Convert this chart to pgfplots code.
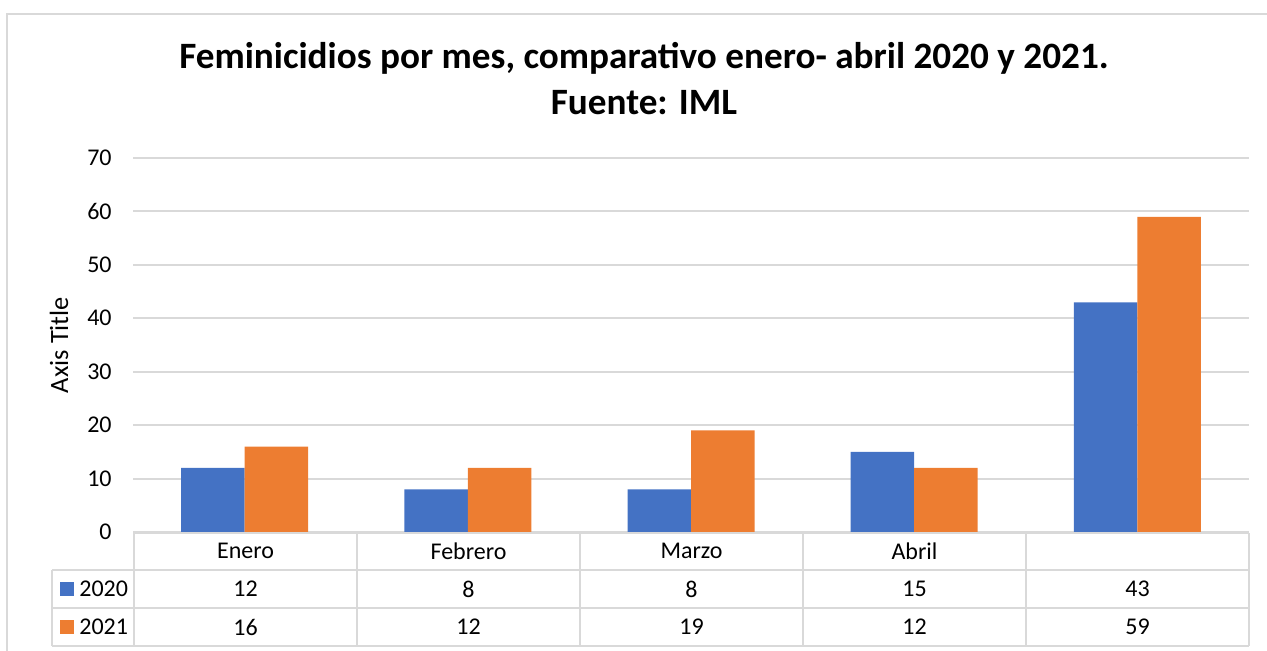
\documentclass[border=0pt]{standalone}
\usepackage{fontspec}
\setmainfont{Carlito}
\usepackage{pgfplots}
\pgfplotsset{compat=1.18}
\definecolor{c2020}{HTML}{4472C4}
\definecolor{c2021}{HTML}{ED7D31}
\definecolor{gridc}{HTML}{D9D9D9}
\newcommand{\tfont}{\fontsize{12pt}{14pt}\selectfont}
\begin{document}
\begin{tikzpicture}
% pixel-like frame: 1px = 0.5pt, y grows downward
\begin{scope}[x=0.5pt,y=-0.5pt]
\useasboundingbox (0,0) rectangle (1267,651);
\draw[gridc, line width=1pt] (7,651) -- (7,14) -- (1267,14);
\node[font=\fontsize{18.6pt}{22pt}\selectfont\bfseries] at (644,58) {Feminicidios por mes, comparativo enero- abril 2020 y 2021.};
\node[font=\fontsize{18.6pt}{22pt}\selectfont\bfseries] at (644,103) {Fuente: IML};
\node[font=\fontsize{13.2pt}{16pt}\selectfont, rotate=90] at (59,345) {Axis Title};
\end{scope}

\begin{axis}[
    at={(66.5pt,-266pt)}, anchor=south west,
    scale only axis,
    width=558pt, height=187pt,
    xmin=-0.5, xmax=4.5,
    ymin=0, ymax=70,
    ytick={0,10,...,70},
    xtick=\empty,
    axis line style={draw=none},
    major tick length=0pt,
    ymajorgrids,
    grid style={gridc, line width=1pt},
    yticklabel style={font=\tfont, inner sep=0pt, xshift=-10.5pt},
    /pgf/number format/assume math mode=true,
    clip=false,
]
\addplot[ybar, bar width=31.75pt, bar shift=-15.875pt, fill=c2020, draw=none]
    coordinates {(0,12) (1,8) (2,8) (3,15) (4,43)};
\addplot[ybar, bar width=31.75pt, bar shift=15.875pt, fill=c2021, draw=none]
    coordinates {(0,16) (1,12) (2,19) (3,12) (4,59)};
\end{axis}

% data table under the plot
\begin{scope}[x=0.5pt,y=-0.5pt]
\draw[gridc, line width=1pt] (134,533) -- (1249,533);
\draw[gridc, line width=1pt] (52,570) -- (1249,570);
\draw[gridc, line width=1pt] (52,608) -- (1249,608);
\draw[gridc, line width=1pt] (52,646) -- (1249,646);
\draw[gridc, line width=1pt] (52,570) -- (52,646);
\foreach \xx in {134,357,580,803,1026,1249}
    \draw[gridc, line width=1pt] (\xx,533) -- (\xx,646);
\fill[c2020] (60,582) rectangle (74,596);
\fill[c2021] (60,620) rectangle (74,634);
\node[font=\tfont, anchor=west, inner sep=0pt] at (79,589) {2020};
\node[font=\tfont, anchor=west, inner sep=0pt] at (79,627) {2021};
\foreach \xx/\cat/\a/\b in {245.5/Enero/12/16, 468.5/Febrero/8/12, 691.5/Marzo/8/19, 914.5/Abril/15/12, 1137.5//43/59} {
    \node[font=\tfont] at (\xx,551) {\cat};
    \node[font=\tfont] at (\xx,589) {\a};
    \node[font=\tfont] at (\xx,627) {\b};
}
\end{scope}
\end{tikzpicture}
\end{document}
